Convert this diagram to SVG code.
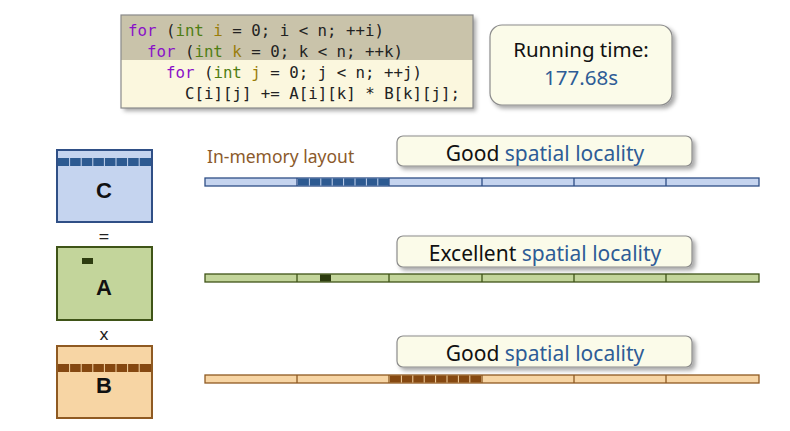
<svg xmlns="http://www.w3.org/2000/svg" width="790" height="431" viewBox="0 0 790 431">
<defs>
<filter id="sh" x="-10%" y="-20%" width="130%" height="160%">
<feDropShadow dx="3" dy="3" stdDeviation="2" flood-color="#000" flood-opacity="0.35"/>
</filter>
</defs>
<style>
.code{font-family:"DejaVu Sans Mono","Liberation Mono",monospace;font-size:16.5px;fill:#222}
.kw{fill:#8a10c8}
.ty{fill:#4f7d12}
.va{fill:#9a7d0a}
.sans{font-family:"Noto Sans","Liberation Sans",sans-serif}
.call{fill:#fbfbe9;stroke:#8c8c8c;stroke-width:1.2}
.blue{fill:#2e5c96}
.lbl{font-family:"Liberation Sans",sans-serif;font-size:22px;font-weight:bold;fill:#111;text-anchor:middle}
.cbar{fill:#c5d4ef;stroke:#2f4f86;stroke-width:1.3}
.abar{fill:#c3d59b;stroke:#3f5417;stroke-width:1.3}
.bbar{fill:#f7d5a4;stroke:#8f5a22;stroke-width:1.3}
</style>

<g id="code">
<g filter="url(#sh)">
<rect x="121" y="15" width="352" height="93" fill="#fbf7de"/>
</g>
<rect x="121" y="15" width="352" height="45" fill="#c9c3aa"/>
<rect x="121" y="15" width="352" height="93" fill="none" stroke="#8a8a8a" stroke-width="1.2"/>
<text class="code" x="128" y="36" textLength="256" lengthAdjust="spacingAndGlyphs" xml:space="preserve"><tspan class="kw">for</tspan> (<tspan class="ty">int</tspan> <tspan class="va">i</tspan> = 0; i &lt; n; ++i)</text>
<text class="code" x="147" y="57" textLength="256" lengthAdjust="spacingAndGlyphs" xml:space="preserve"><tspan class="kw">for</tspan> (<tspan class="ty">int</tspan> <tspan class="va">k</tspan> = 0; k &lt; n; ++k)</text>
<text class="code" x="166" y="78" textLength="256" lengthAdjust="spacingAndGlyphs" xml:space="preserve"><tspan class="kw">for</tspan> (<tspan class="ty">int</tspan> <tspan class="va">j</tspan> = 0; j &lt; n; ++j)</text>
<text class="code" x="185" y="99" textLength="275" lengthAdjust="spacingAndGlyphs" xml:space="preserve">C[i][j] += A[i][k] * B[k][j];</text>
</g>

<g id="runtime">
<rect x="490" y="25" width="182" height="80" rx="12" class="call" filter="url(#sh)"/>
<text class="sans" x="581" y="57" font-size="20.5" text-anchor="middle" fill="#111">Running time:</text>
<text class="sans blue" x="581" y="85" font-size="20.5" text-anchor="middle">177.68s</text>
</g>

<g id="matC">
<rect x="57" y="150" width="95" height="72" fill="#c5d4ef" stroke="#2f4f86" stroke-width="2"/>
<rect x="58" y="158" width="93" height="8" fill="#2d5a91"/>
<path d="M69.6 158v8M81.2 158v8M92.8 158v8M104.4 158v8M116 158v8M127.6 158v8M139.2 158v8" stroke="#c5d4ef" stroke-width="1"/>
<text class="lbl" x="104" y="198">C</text>
</g>

<text class="sans" x="104" y="244" font-size="19" text-anchor="middle" fill="#222">=</text>

<g id="matA">
<rect x="57" y="247" width="95" height="73" fill="#c3d59b" stroke="#3f5417" stroke-width="2"/>
<rect x="82" y="258" width="11" height="6" fill="#2d3c10"/>
<text class="lbl" x="104" y="295">A</text>
</g>

<text class="sans" x="104" y="340" font-size="17" text-anchor="middle" fill="#222">x</text>

<g id="matB">
<rect x="57" y="346" width="95" height="72" fill="#f7d5a4" stroke="#8f5a22" stroke-width="2"/>
<rect x="58" y="364" width="93" height="8" fill="#854811"/>
<path d="M69.6 364v8M81.2 364v8M92.8 364v8M104.4 364v8M116 364v8M127.6 364v8M139.2 364v8" stroke="#f7d5a4" stroke-width="1"/>
<text class="lbl" x="104" y="393">B</text>
</g>

<text class="sans" x="207" y="163" font-size="17.5" fill="#8b5a2b">In-memory layout</text>

<g id="barC">
<rect x="205" y="178" width="554" height="8" class="cbar"/>
<path d="M297 178v8M389 178v8M482 178v8M574 178v8M666 178v8" stroke="#2f4f86" stroke-width="1.3"/>
<rect x="298" y="178.5" width="91" height="7" fill="#2d5a91"/>
<path d="M309.4 178.5v7M320.8 178.5v7M332.2 178.5v7M343.6 178.5v7M355 178.5v7M366.4 178.5v7M377.8 178.5v7" stroke="#c5d4ef" stroke-width="1"/>
</g>

<g id="barA">
<rect x="205" y="274" width="554" height="8" class="abar"/>
<path d="M297 274v8M389 274v8M482 274v8M574 274v8M666 274v8" stroke="#3f5417" stroke-width="1.3"/>
<rect x="320" y="274.5" width="11" height="7" fill="#2d3c10"/>
</g>

<g id="barB">
<rect x="205" y="375" width="554" height="8" class="bbar"/>
<path d="M297 375v8M389 375v8M482 375v8M574 375v8M666 375v8" stroke="#8f5a22" stroke-width="1.3"/>
<rect x="390" y="375.5" width="91" height="7" fill="#854811"/>
<path d="M401.4 375.5v7M412.8 375.5v7M424.2 375.5v7M435.6 375.5v7M447 375.5v7M458.4 375.5v7M469.8 375.5v7" stroke="#f7d5a4" stroke-width="1"/>
</g>

<g id="call1">
<rect x="397" y="136" width="295" height="30" rx="6" class="call" filter="url(#sh)"/>
<text class="sans" x="545" y="161" font-size="21" text-anchor="middle" fill="#111">Good <tspan class="blue">spatial locality</tspan></text>
</g>

<g id="call2">
<rect x="397" y="236" width="295" height="31" rx="6" class="call" filter="url(#sh)"/>
<text class="sans" x="545" y="261" font-size="21" text-anchor="middle" fill="#111">Excellent <tspan class="blue">spatial locality</tspan></text>
</g>

<g id="call3">
<rect x="397" y="336" width="295" height="31" rx="6" class="call" filter="url(#sh)"/>
<text class="sans" x="545" y="361" font-size="21" text-anchor="middle" fill="#111">Good <tspan class="blue">spatial locality</tspan></text>
</g>
</svg>
